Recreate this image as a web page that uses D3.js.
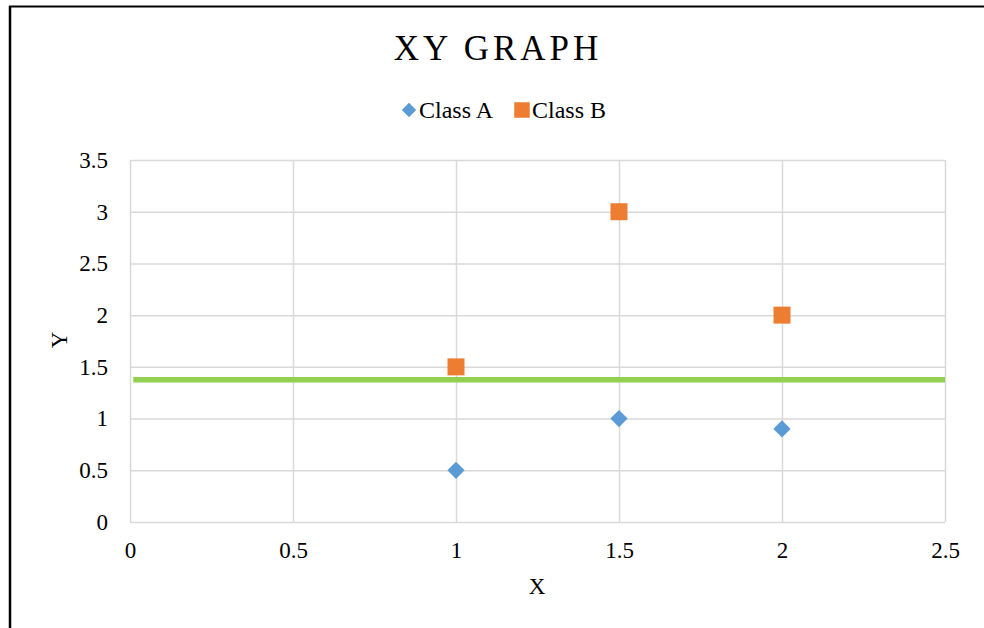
<!DOCTYPE html>
<html><head><meta charset="utf-8">
<script src="https://cdn.jsdelivr.net/npm/d3@7"></script>
<style>body{margin:0;background:#fff}svg{display:block}text{font-family:"Liberation Serif","Times New Roman",serif;fill:#000}</style>
</head><body>
<svg id="c" width="984" height="628"></svg>
<script>
const classAX = [1, 1.5, 2];
const classAY = [0.5, 1, 0.9];
const classBX = [1, 1.5, 2];
const classBY = [1.5, 3, 2];
const lineX = [0.01, 2.5];
const lineY = [1.375, 1.375];
const xTicks = [0, 0.5, 1, 1.5, 2, 2.5];
const yTicks = [0, 0.5, 1, 1.5, 2, 2.5, 3, 3.5];
const seriesNames = ["Class A", "Class B"];

const svg = d3.select("#c");
svg.append("rect").attr("width",984).attr("height",628).attr("fill","#fff");
// frame
svg.append("line").attr("x1",10).attr("x2",10).attr("y1",6).attr("y2",628).attr("stroke","#000").attr("stroke-width",2.5);
svg.append("line").attr("x1",9).attr("x2",984).attr("y1",6.5).attr("y2",6.5).attr("stroke","#000").attr("stroke-width",2);

const x = d3.scaleLinear().domain([0,2.5]).range([130,945]);
const y = d3.scaleLinear().domain([0,3.5]).range([522,160]);
const grid = "#d9d9d9";

const gx = svg.append("g").attr("transform","translate(0,522)")
  .call(d3.axisBottom(x).tickValues(xTicks).tickSize(-362).tickFormat(d3.format("")));
gx.select(".domain").remove();
gx.selectAll("line").attr("stroke",grid).attr("stroke-width",1.5);
gx.selectAll("text").attr("font-size",23).attr("dy",0).attr("y",36).style("font-family","Liberation Serif");

const gy = svg.append("g").attr("transform","translate(130,0)")
  .call(d3.axisLeft(y).tickValues(yTicks).tickSize(-815).tickFormat(d3.format("")));
gy.select(".domain").remove();
gy.selectAll("line").attr("stroke",grid).attr("stroke-width",1.5);
gy.selectAll("text").attr("font-size",23).attr("x",-22).attr("dy","0.32em").style("font-family","Liberation Serif");

// green line
svg.append("path").datum(lineX.map((d,i)=>[d,lineY[i]]))
  .attr("d", d3.line().x(d=>x(d[0])).y(d=>y(d[1])))
  .attr("stroke","#92d050").attr("stroke-width",5.5).attr("fill","none");

const diamond = d3.symbol().type(d3.symbolDiamond2).size(190);
const square = d3.symbol().type(d3.symbolSquare).size(289);

svg.append("g").selectAll("path").data(classAX.map((d,i)=>[d,classAY[i]])).join("path")
  .attr("d", diamond).attr("transform", d=>`translate(${x(d[0])},${y(d[1])})`).attr("fill","#5b9bd5");
svg.append("g").selectAll("path").data(classBX.map((d,i)=>[d,classBY[i]])).join("path")
  .attr("d", square).attr("transform", d=>`translate(${x(d[0])},${y(d[1])})`).attr("fill","#ed7d31");

// title
svg.append("text").attr("x",498).attr("y",60).attr("text-anchor","middle")
  .attr("font-size",35).attr("letter-spacing",4).text("XY GRAPH");

// legend
const lg = svg.append("g");
lg.append("path").attr("d", d3.symbol().type(d3.symbolDiamond2).size(130)).attr("transform","translate(409,110)").attr("fill","#5b9bd5");
lg.append("text").attr("x",419).attr("y",118).attr("font-size",24).text(seriesNames[0]);
lg.append("path").attr("d", d3.symbol().type(d3.symbolSquare).size(240)).attr("transform","translate(522,110)").attr("fill","#ed7d31");
lg.append("text").attr("x",532).attr("y",118).attr("font-size",24).text(seriesNames[1]);

// axis titles
svg.append("text").attr("x",537).attr("y",594).attr("text-anchor","middle").attr("font-size",23).text("X");
svg.append("text").attr("transform","translate(67,340) rotate(-90)").attr("text-anchor","middle").attr("font-size",23).text("Y");
</script>
</body></html>
